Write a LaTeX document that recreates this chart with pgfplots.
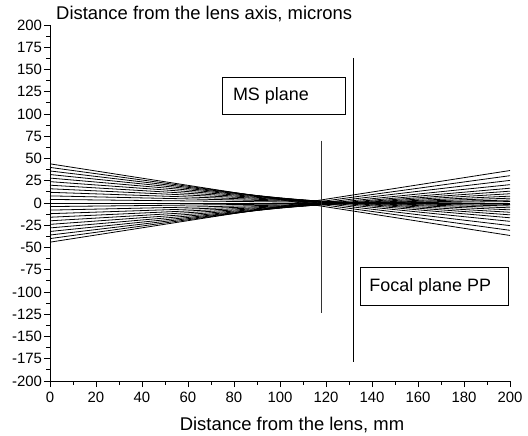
\documentclass[border=0pt]{standalone}
\usepackage{fontspec}
\setmainfont{Liberation Sans}
\usepackage{pgfplots}
\pgfplotsset{compat=1.18}
\usetikzlibrary{calc}

\begin{document}
\begin{tikzpicture}
\begin{axis}[
  scale only axis, width=460bp, height=356bp,
  xmin=0, xmax=200, ymin=-200, ymax=200,
  axis x line*=bottom, axis y line*=left,
  axis line style={-, line width=0.9bp},
  xtick={0,20,...,200}, ytick={-200,-175,...,200},
  minor x tick num=1, minor y tick num=1,
  tick align=outside,
  major tick length=6bp, minor tick length=3.5bp,
  tick style={black, line width=0.9bp},
  /pgf/number format/assume math mode=true,
  ticklabel style={font=\fontsize{15}{17}\selectfont},
  yticklabel style={xshift=1.5bp},
  xticklabel style={yshift=-2bp},
  clip=false,
]
% rays (left end at x=0, right end at x=200)
\addplot[black, line width=0.8bp] coordinates {(0,44) (200,-36.5)};
\addplot[black, line width=0.8bp] coordinates {(0,40) (200,-30.7)};
\addplot[black, line width=0.8bp] coordinates {(0,36) (200,-25.4)};
\addplot[black, line width=0.8bp] coordinates {(0,32) (200,-20.6)};
\addplot[black, line width=0.8bp] coordinates {(0,28) (200,-16.6)};
\addplot[black, line width=0.8bp] coordinates {(0,24) (200,-13.3)};
\addplot[black, line width=0.8bp] coordinates {(0,20) (200,-10.4)};
\addplot[black, line width=0.8bp] coordinates {(0,16) (200,-7.7)};
\addplot[black, line width=0.8bp] coordinates {(0,12) (200,-5.4)};
\addplot[black, line width=0.8bp] coordinates {(0,8) (200,-3.3)};
\addplot[black, line width=0.8bp] coordinates {(0,4) (200,-1.6)};
\addplot[black, line width=0.8bp] coordinates {(0,0) (200,0)};
\addplot[black, line width=0.8bp] coordinates {(0,-4) (200,1.6)};
\addplot[black, line width=0.8bp] coordinates {(0,-8) (200,3.3)};
\addplot[black, line width=0.8bp] coordinates {(0,-12) (200,5.4)};
\addplot[black, line width=0.8bp] coordinates {(0,-16) (200,7.7)};
\addplot[black, line width=0.8bp] coordinates {(0,-20) (200,10.4)};
\addplot[black, line width=0.8bp] coordinates {(0,-24) (200,13.3)};
\addplot[black, line width=0.8bp] coordinates {(0,-28) (200,16.6)};
\addplot[black, line width=0.8bp] coordinates {(0,-32) (200,20.6)};
\addplot[black, line width=0.8bp] coordinates {(0,-36) (200,25.4)};
\addplot[black, line width=0.8bp] coordinates {(0,-40) (200,30.7)};
\addplot[black, line width=0.8bp] coordinates {(0,-44) (200,36.5)};
% MS plane and focal plane
\addplot[black!80, line width=0.8bp] coordinates {(118,70) (118,-124)};
\addplot[black, line width=0.8bp] coordinates {(132,163) (132,-179)};
% label boxes
\draw[fill=white, line width=0.7bp] (axis cs:74.8,141) rectangle (axis cs:128.3,99.4);
\node[anchor=west, inner sep=0pt, font=\fontsize{18}{20}\selectfont] at (axis cs:79.5,120.2) {MS plane};
\draw[fill=white, line width=0.7bp] (axis cs:135.1,-72.5) rectangle (axis cs:199.1,-115.2);
\node[anchor=west, inner sep=0pt, font=\fontsize{18}{20}\selectfont] at (axis cs:138.8,-93.8) {Focal plane PP};
\end{axis}
\node[anchor=base west, inner sep=0pt, font=\fontsize{18.5}{22}\selectfont]
  at ($(current axis.north west)+(6bp,6bp)$) {Distance from the lens axis, microns};
\node[anchor=base, inner sep=0pt, font=\fontsize{18.5}{22}\selectfont]
  at ($(current axis.south west)+(242bp,-49bp)$) {Distance from the lens, mm};
\pgfresetboundingbox
\path[use as bounding box] ($(current axis.south west)+(-50bp,-55bp)$)
  rectangle ($(current axis.north east)+(18bp,25bp)$);
\end{tikzpicture}
\end{document}
